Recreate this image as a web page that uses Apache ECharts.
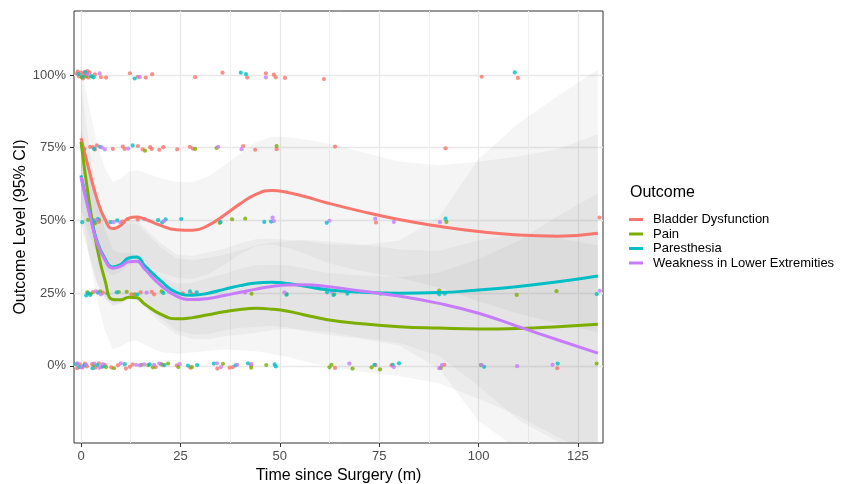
<!DOCTYPE html>
<html><head><meta charset="utf-8">
<script src="https://cdn.jsdelivr.net/npm/echarts@6/dist/echarts.min.js"></script>
<style>html,body{margin:0;padding:0;background:#fff}#c{width:843px;height:484px}</style>
</head><body><div id="c"></div><script>
// ---------- data ----------
const SERIES_NAMES = ['Bladder Dysfunction', 'Pain', 'Paresthesia', 'Weakness in Lower Extremities'];
const X_TICKS = [0, 25, 50, 75, 100, 125];
const X_MINOR = [12.5, 37.5, 62.5, 87.5, 112.5];
const Y_TICKS = [0, 25, 50, 75, 100];

const TIME = [0, 2, 4, 6, 8, 10, 12, 14, 16, 20, 24, 28, 32, 36, 40, 44, 48, 52, 56, 62, 70, 80, 90, 100, 110, 120, 130];

const bladderFit = [78.3, 67.5, 57.5, 50.5, 47.2, 48.3, 50.8, 51.2, 50.5, 48.3, 46.8, 46.6, 48.3, 51.8, 55.7, 59.0, 60.3, 59.6, 58.3, 56.0, 53.3, 50.3, 48.0, 46.2, 45.0, 44.6, 45.6];
const bladderUpper = [103.3, 89.5, 76.5, 68, 63.2, 64.3, 66.8, 67.2, 66.5, 64.5, 63.3, 63.2, 65.1, 68.8, 73, 76.8, 78.9, 78.6, 77.9, 76.5, 73.8, 70.3, 69, 70.2, 72, 74.6, 79.6];
const bladderLower = [53.3, 45.5, 38.5, 33, 31.2, 32.3, 34.8, 35.2, 34.5, 32.1, 30.3, 30, 31.5, 34.8, 38.4, 41.2, 41.7, 40.6, 38.7, 35.5, 32.8, 30.3, 27, 22.2, 18, 14.6, 11.6];

const painFit = [77, 57, 41, 29.6, 22.8, 22.7, 23.6, 23.4, 21.3, 17.8, 16.2, 16.6, 17.6, 18.6, 19.4, 19.8, 19.5, 18.8, 17.6, 15.9, 14.6, 13.5, 13.0, 12.7, 12.9, 13.5, 14.3];
const painUpper = [97, 76, 59, 47.1, 39.8, 38.7, 38.9, 38.1, 35.3, 30.8, 28.2, 28.6, 30.1, 31.6, 33.4, 34.6, 34.8, 34.5, 33.6, 31.9, 31.1, 30.5, 32, 36.7, 42.9, 51.5, 59.3];
const painLower = [57, 38, 23, 12.1, 5.8, 6.7, 8.3, 8.7, 7.3, 4.8, 4.2, 4.6, 5.1, 5.6, 5.4, 5, 4.2, 3.1, 1.6, -0.1, -1.9, -3.5, -6, -11.3, -17.1, -24.5, -30.7];

const paresthesiaFit = [65.5, 53.5, 43, 37, 34, 34.8, 37.1, 37.4, 34.5, 29.3, 25.3, 24.3, 25, 26.3, 27.6, 28.5, 28.8, 28.3, 27.5, 26.2, 25.4, 25.0, 25.2, 26.1, 27.3, 28.9, 30.9];
const paresthesiaUpper = [81.5, 68.5, 57, 50.5, 47, 47.8, 50.1, 50.2, 47.5, 42.3, 38.3, 37.8, 39, 40.3, 42.1, 43.5, 43.8, 43.3, 43, 41.7, 41.4, 43, 51.2, 71.1, 83.3, 92.9, 101.9];
const paresthesiaLower = [49.5, 38.5, 29, 23.5, 21, 21.8, 24.1, 24.2, 21.5, 16.3, 12.3, 10.8, 11, 12.3, 13.1, 13.5, 13.8, 13.3, 12, 10.7, 9.4, 7, -0.8, -18.9, -28.7, -35.1, -40.1];

const weaknessFit = [65, 53, 42.5, 36.5, 33.6, 34.3, 35.8, 36.0, 33.3, 27.8, 24, 22.8, 23.2, 24.2, 25.3, 26.4, 27.3, 27.8, 27.9, 27.3, 25.8, 24.0, 21.5, 18.1, 13.5, 8.9, 4.4];
const weaknessUpper = [81, 68, 56.5, 50, 46.6, 47.3, 48.8, 48.9, 46.3, 40.8, 37, 36.3, 37.2, 38.2, 39.8, 41.4, 42.3, 42.8, 43.4, 42.8, 41.8, 40, 39.5, 43.1, 45.5, 43.9, 41.4];
const weaknessLower = [49, 38, 28.5, 23, 20.6, 21.3, 22.8, 22.9, 20.3, 14.8, 11, 9.3, 9.2, 10.2, 10.8, 11.4, 12.3, 12.8, 12.4, 11.8, 9.8, 8, 3.5, -6.9, -18.5, -26.1, -32.6];

// observed (jittered) points: [time, level %]
const bladderPoints = [
  [-1,100.5],[-0.5,99.5],[0,100.8],[0.3,99.2],[0.6,100.3],[0.9,101],[1.2,99.6],[1.5,100.4],[1.8,99.1],[2.1,100.9],[-0.8,101.2],[0.5,98.8],[1.6,101.3],[3.5,100.2],[5,99.3],[6.3,99.1],[12.3,100.6],[14.3,99.4],[16.3,99.1],[17.9,100.3],[28.7,99.3],[35.6,100.8],[41.8,99.1],[46.5,100.6],[48.5,100.1],[49,99.2],[51.3,99],[61.1,98.6],[100.8,99.4],[109.9,99],
  [2.3,75.3],[3,75.2],[3.5,74.4],[4,75.8],[8,74.6],[10.5,75.4],[11,74.6],[14.3,75.6],[15.5,74.4],[17.4,75.2],[17.8,74.6],[19.7,74.3],[20.7,75.2],[24.2,74.4],[27.4,75.3],[28.1,74.7],[40.8,75.6],[43.8,74.3],[49.2,74.5],[63.9,75.4],[91.7,74.8],
  [3,50.2],[4.5,49.5],[10.4,49.6],[14.3,50.3],[74.2,49.3],[130.4,51],
  [3,25.4],[5.5,25.2],[12.7,24.6],[15,25.3],[17.8,25.5],[18.4,24.6],[25.6,24.9],[28,24.6],
  [-1,-0.8],[-0.3,0.5],[0.4,-0.5],[1,0.8],[1.5,-0.2],[2.8,0.6],[3.6,-0.6],[4.5,0.9],[5.2,-0.3],[6,0.4],[7.6,-0.5],[9.3,0.2],[11.3,-0.9],[12.3,-0.3],[13,0.5],[18.8,-0.4],[20.6,0.3],[24.1,0.2],[27.5,-0.6],[34.3,-0.9],[37.4,-0.6],[38.2,-0.4],[42.8,0.2],[63.9,-0.7],[74.1,0.3],[78.1,0.2],[91.4,0.4],[119.8,-0.8]
];
const painPoints = [
  [0.2,99.2],[1.3,99.5],[2.8,99.4],
  [16.1,74],[28.7,74.6],[34.1,74.9],[49.2,75.6],
  [1.8,50.2],[3.5,49],[4.5,50.3],[11.8,50.5],[34.9,49.2],[38,50.4],[41.3,50.6],[91.9,49.5],
  [1.6,25.3],[2.5,24.8],[4.8,25.6],[9.5,25.4],[11.5,25.5],[13.5,24.6],[20.3,25.6],[42.9,24.8],[51.7,24.7],[63.7,24.6],[90.1,25.9],[109.6,24.4],[119.6,25.7],
  [3.2,0.3],[6.3,-0.4],[8.3,-0.8],[15.2,0.4],[16.9,0.3],[18.1,-0.5],[20.2,0.6],[21.9,0.8],[24.5,-0.4],[27.9,-0.4],[35.7,0.7],[42.8,-0.6],[46.6,0.3],[62.5,-0.5],[63,0.4],[68.3,-0.9],[73.1,-0.5],[75.2,-1.2],[90.5,-0.7],[100.6,0.3],[129.7,0.8]
];
const paresthesiaPoints = [
  [-0.6,100.3],[0.4,99.4],[1.1,100.9],[2.5,99.6],[3.2,99.2],[13.5,98.8],[40.2,100.8],[41.5,100.3],[109.1,100.9],
  [3.3,74.6],[4.8,75.3],[13,75.8],[0.8,74.5],
  [0.3,49.4],[2.6,50.3],[3.4,49.6],[4.2,50.5],[7.4,49.4],[9.1,50],[19.4,50.1],[20.4,49.3],[21.3,50.4],[25.2,50.5],[35.1,49.5],[46.1,49.5],[47.8,49.6],[61.8,49.2],[91.7,50.6],
  [1.3,24.2],[1.8,25],[2.3,24.4],[4.2,25.2],[6.6,25],[9,25.3],[14.2,24.5],[20.7,25.1],[27.4,25.6],[29.1,25.3],[51.7,24.5],[61.9,25.3],[63.5,24.4],[67,24.8],[75.4,24.8],[90.1,24.6],[91.5,24.8],[129.7,24.7],
  [-1.2,0.6],[-0.4,-0.4],[0.8,0.2],[2.9,-0.8],[4.1,0.3],[5.6,-0.2],[11,0.6],[17.3,0.5],[21,0.3],[26.9,0.1],[29.2,0.3],[33.4,0.8],[38.9,0.2],[42,0.9],[48.7,0.5],[49,-0.2],[73.8,0.4],[78.4,0.4],[80,0.9],[101.4,-0.3],[119.9,0.8]
];
const weaknessPoints = [
  [1.5,100.2],[4.7,100.6],[14.8,99.3],[46.5,99.2],
  [5.2,75.1],[6,74.4],[11.9,74.7],[34.5,75.3],[40.4,74.5],
  [4,50.2],[8.2,49.4],[9.9,49.3],[16,50.5],[20.9,49.8],[48.2,51],[48.5,49.8],[62.5,49.9],[74,50.6],[78.7,49.5],[90.3,49.4],
  [3.8,25.6],[5,24.6],[16.5,25.2],[41.3,25.2],[51.2,25.3],[63,25.5],[130.5,25.8],
  [-0.9,0.9],[0.1,-0.5],[1.3,0.4],[3.3,0.8],[4.6,-0.6],[5.5,0.6],[10,0.9],[13.9,0.4],[14.8,0.2],[15.9,0.5],[18.4,0.4],[19.7,0.8],[24.8,0.6],[34.2,0.9],[35.2,-0.4],[39.3,0.4],[42.8,0.6],[67.5,0.8],[78.7,-0.4],[90.1,-0.8],[90.8,0.3],[100.8,0.3],[109.7,-0.1],[118.6,0.4]
];

// ---------- chart ----------
const COLORS = ['#F8766D', '#7CAE00', '#00BFC4', '#C77CFF'];
const FITS = [bladderFit, painFit, paresthesiaFit, weaknessFit];
const UPPERS = [bladderUpper, painUpper, paresthesiaUpper, weaknessUpper];
const LOWERS = [bladderLower, painLower, paresthesiaLower, weaknessLower];
const POINTS = [bladderPoints, painPoints, paresthesiaPoints, weaknessPoints];
const FONT = '"Liberation Sans", Arial, Helvetica, sans-serif';

function ribbon(k) {
  const lower = LOWERS[k], upper = UPPERS[k];
  return {
    type: 'custom', name: SERIES_NAMES[k] + ' CI', silent: true, clip: true, z: 1,
    data: TIME.map((t, i) => [t, lower[i], upper[i]]),
    encode: { x: 0, y: [1, 2] },
    renderItem: function (params, api) {
      if (params.dataIndex !== 0) return null;
      const top = TIME.map((t, i) => api.coord([t, upper[i]]));
      const bot = TIME.map((t, i) => api.coord([t, lower[i]])).reverse();
      return { type: 'polygon', shape: { points: top.concat(bot) }, style: { fill: 'rgba(153,153,153,0.1)' } };
    }
  };
}

const series = [];
for (let k = 0; k < 4; k++) series.push(ribbon(k));
for (let k = 0; k < 4; k++) series.push({
  type: 'scatter', name: SERIES_NAMES[k] + ' obs', data: POINTS[k], symbolSize: 4.2,
  itemStyle: { color: COLORS[k] }, z: 2, silent: true
});
for (let k = 0; k < 4; k++) series.push({
  type: 'line', name: SERIES_NAMES[k], data: TIME.map((t, i) => [t, FITS[k][i]]),
  smooth: 0.5, showSymbol: false, lineStyle: { color: COLORS[k], width: 3 },
  itemStyle: { color: COLORS[k] }, z: 3, silent: true
});

const chart = echarts.init(document.getElementById('c'), null, { renderer: 'canvas' });
chart.setOption({
  animation: false,
  backgroundColor: '#fff',
  textStyle: { fontFamily: FONT },
  title: { text: 'Outcome', left: 630, top: 185, padding: 0, textStyle: { fontSize: 16, fontWeight: 'normal', color: '#000', fontFamily: FONT } },
  legend: {
    data: SERIES_NAMES, orient: 'vertical', left: 629, top: 213, padding: 0,
    icon: 'rect', itemWidth: 14, itemHeight: 3, itemGap: 1.5,
    textStyle: { fontSize: 13, color: '#000', fontFamily: FONT, padding: [0, 0, 0, 5] }
  },
  grid: { left: 74, right: 240, top: 11, bottom: 41, show: true, borderColor: '#333', borderWidth: 1, backgroundColor: '#fff', outerBoundsMode: 'none', containLabel: false },
  xAxis: [{
    type: 'value', min: -1.76, max: 131.3,
    name: 'Time since Surgery (m)', nameLocation: 'middle', nameGap: 20,
    nameTextStyle: { fontSize: 16, color: '#000', fontFamily: FONT },
    axisLine: { show: false, onZero: false },
    axisTick: { show: true, length: 4, lineStyle: { color: '#333' }, customValues: X_TICKS },
    axisLabel: { customValues: X_TICKS, fontSize: 13, color: '#4D4D4D', margin: 7, fontFamily: FONT },
    splitLine: { show: true, lineStyle: { color: '#E8E8E8', width: 1.3 } }
  }, {
    type: 'value', min: -1.76, max: 131.3, position: 'bottom',
    axisLine: { show: false, onZero: false }, axisLabel: { show: false },
    axisTick: { show: false, customValues: X_MINOR },
    splitLine: { show: true, lineStyle: { color: '#F0F0F0', width: 1 } }
  }],
  yAxis: {
    type: 'value', min: -26.5, max: 122,
    name: 'Outcome Level (95% CI)', nameLocation: 'middle', nameGap: 45, nameMoveOverlap: false,
    nameTextStyle: { fontSize: 16, color: '#000', fontFamily: FONT },
    axisLine: { show: false, onZero: false },
    axisTick: { show: true, length: 4, lineStyle: { color: '#333' }, customValues: Y_TICKS },
    axisLabel: { customValues: Y_TICKS, fontSize: 13, color: '#4D4D4D', margin: 8, fontFamily: FONT, formatter: v => v + '%' },
    splitLine: { show: true, lineStyle: { color: '#E8E8E8', width: 1.3 } }
  },
  series: series
});
</script></body></html>
